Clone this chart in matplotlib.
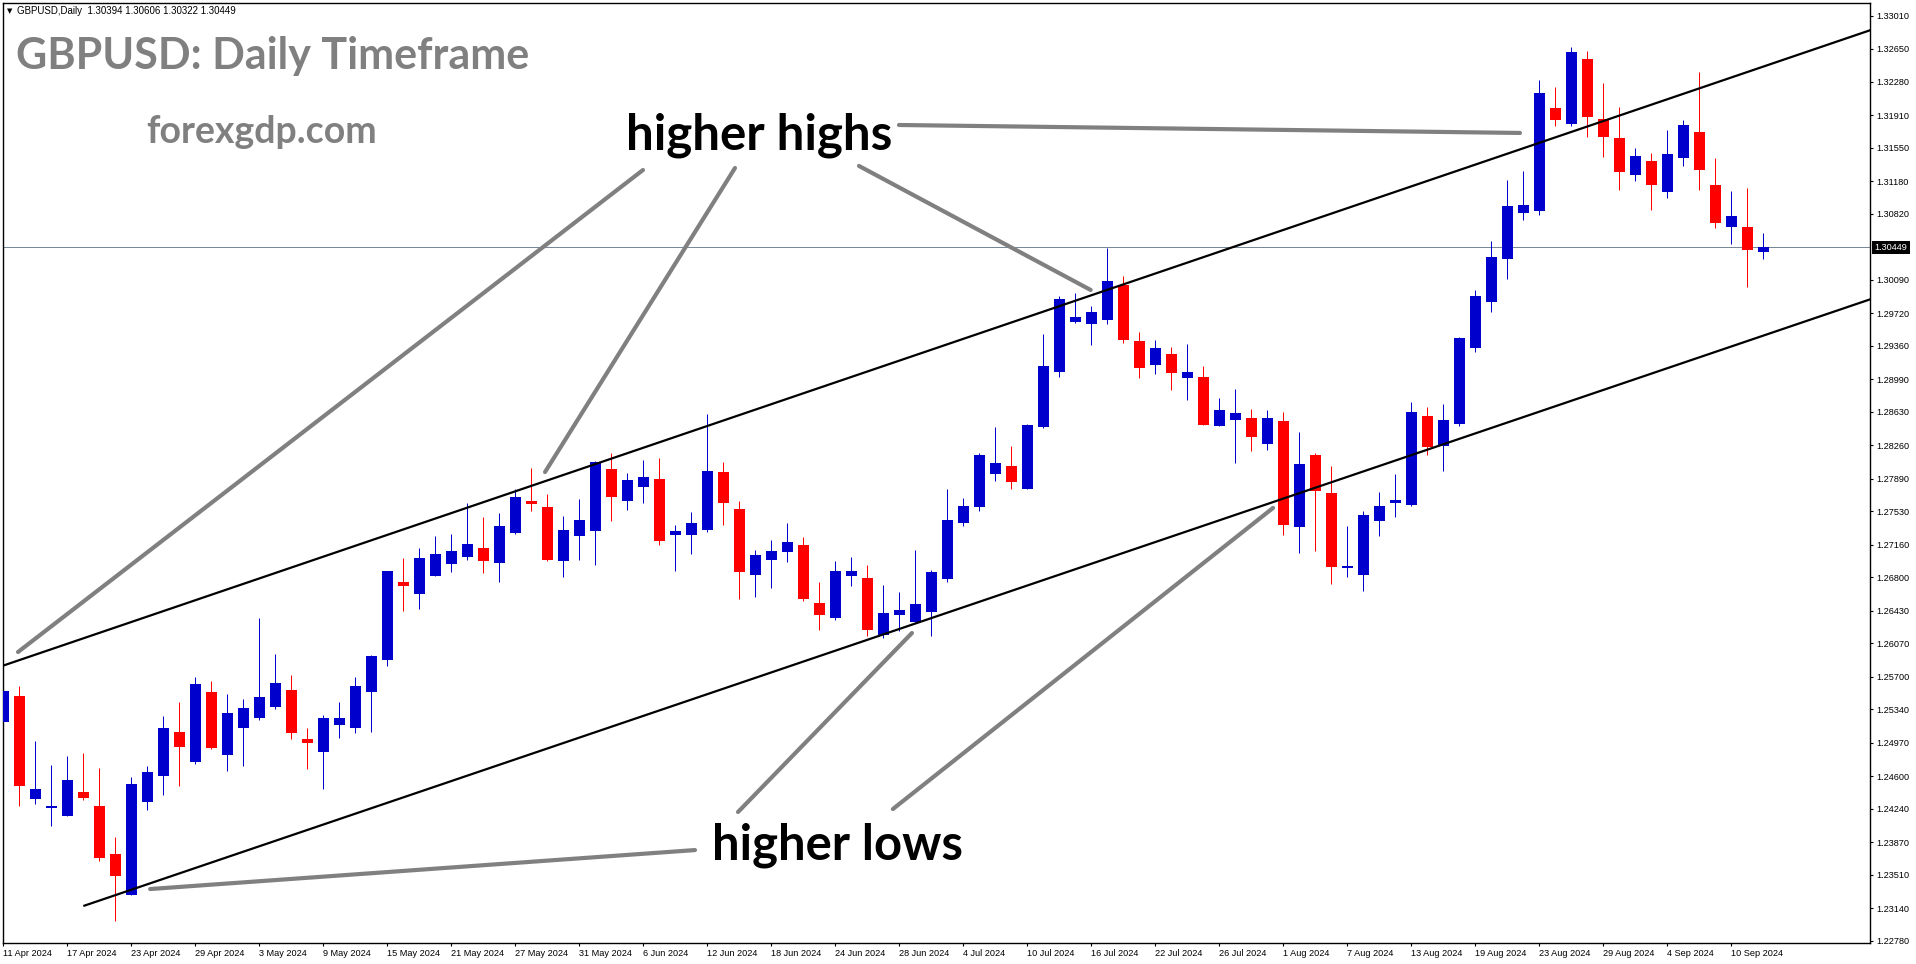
import matplotlib
matplotlib.use("Agg")
import matplotlib.pyplot as plt
import matplotlib.transforms as mtransforms

W, H = 1916, 964

# daily OHLC, 11 Apr 2024 .. 12 Sep 2024 (one entry per trading day)
opens = [1.25203, 1.25487, 1.24351, 1.24251, 1.24163, 1.24425, 1.24270, 1.23739, 1.23289, 1.24318,
         1.24605, 1.25089, 1.24760, 1.25531, 1.24838, 1.25136, 1.25247, 1.25369, 1.25554, 1.25011,
         1.24871, 1.25170, 1.25136, 1.25535, 1.25889, 1.26748, 1.26619, 1.26818, 1.26951, 1.27028,
         1.27124, 1.26962, 1.27294, 1.27644, 1.27578, 1.26984, 1.27261, 1.27316, 1.27998, 1.27648,
         1.27803, 1.27888, 1.27272, 1.27272, 1.27327, 1.27965, 1.27556, 1.26829, 1.26995, 1.27084,
         1.27158, 1.26516, 1.26353, 1.26818, 1.26793, 1.26165, 1.26387, 1.26309, 1.26420, 1.26785,
         1.27404, 1.27581, 1.27946, 1.28032, 1.27780, 1.28466, 1.29075, 1.29628, 1.29606, 1.29650,
         1.30034, 1.29415, 1.29152, 1.29271, 1.29008, 1.29016, 1.28477, 1.28544, 1.28563, 1.28278,
         1.28529, 1.27360, 1.28153, 1.27736, 1.26907, 1.26829, 1.27427, 1.27626, 1.27604, 1.28585,
         1.28256, 1.28496, 1.29340, 1.29849, 1.30325, 1.30834, 1.30856, 1.31992, 1.31819, 1.32534,
         1.31870, 1.31660, 1.31254, 1.31406, 1.31066, 1.31442, 1.31727, 1.31140, 1.30679, 1.30676,
         1.30394]
highs = [1.25794, 1.25598, 1.24989, 1.24724, 1.24823, 1.24857, 1.24691, 1.23927, 1.24591, 1.24713,
         1.25266, 1.25421, 1.25697, 1.25653, 1.25509, 1.25454, 1.26350, 1.25952, 1.25719, 1.25133,
         1.25277, 1.25421, 1.25697, 1.25941, 1.26873, 1.27014, 1.27124, 1.27257, 1.27279, 1.27622,
         1.27467, 1.27512, 1.27777, 1.28010, 1.27722, 1.27478, 1.27667, 1.28087, 1.28175, 1.27954,
         1.28098, 1.28120, 1.27379, 1.27523, 1.28607, 1.28076, 1.27644, 1.27102, 1.27213, 1.27401,
         1.27246, 1.26748, 1.26981, 1.27025, 1.26936, 1.26715, 1.26638, 1.27102, 1.26881, 1.27777,
         1.27678, 1.28175, 1.28466, 1.28256, 1.28496, 1.29492, 1.29912, 1.29946, 1.29802, 1.30443,
         1.30134, 1.29514, 1.29426, 1.29348, 1.29381, 1.29138, 1.28784, 1.28883, 1.28662, 1.28651,
         1.28629, 1.28408, 1.28175, 1.28032, 1.27368, 1.27534, 1.27744, 1.27943, 1.28740, 1.28684,
         1.28718, 1.29459, 1.29979, 1.30521, 1.31196, 1.31295, 1.32302, 1.32225, 1.32667, 1.32623,
         1.32269, 1.32003, 1.31550, 1.31494, 1.31749, 1.31859, 1.32390, 1.31439, 1.31074, 1.31107,
         1.30606]
lows = [1.25103, 1.24274, 1.24296, 1.24052, 1.24163, 1.24337, 1.23665, 1.23001, 1.23289, 1.24229,
        1.24395, 1.24495, 1.24738, 1.24904, 1.24661, 1.24716, 1.25225, 1.25347, 1.25015, 1.24683,
        1.24462, 1.25026, 1.25081, 1.25092, 1.25822, 1.26431, 1.26453, 1.26818, 1.26862, 1.26995,
        1.26851, 1.26752, 1.27283, 1.27537, 1.26984, 1.26807, 1.26995, 1.26940, 1.27427, 1.27548,
        1.27626, 1.27161, 1.26873, 1.27061, 1.27305, 1.27382, 1.26564, 1.26586, 1.26685, 1.26973,
        1.26541, 1.26221, 1.26331, 1.26707, 1.26154, 1.26132, 1.26210, 1.26298, 1.26154, 1.26752,
        1.27371, 1.27537, 1.27869, 1.27780, 1.27780, 1.28455, 1.29020, 1.29617, 1.29374, 1.29606,
        1.29396, 1.29008, 1.29053, 1.28876, 1.28765, 1.28489, 1.28477, 1.28068, 1.28201, 1.28212,
        1.27272, 1.27072, 1.27095, 1.26730, 1.26807, 1.26652, 1.27261, 1.27471, 1.27592, 1.28157,
        1.27980, 1.28474, 1.29296, 1.29739, 1.30104, 1.30756, 1.30808, 1.31793, 1.31796, 1.31675,
        1.31453, 1.31088, 1.31188, 1.30867, 1.31000, 1.31354, 1.31088, 1.30668, 1.30491, 1.30015,
        1.30322]
closes = [1.25542, 1.24495, 1.24458, 1.24270, 1.24558, 1.24362, 1.23698, 1.23499, 1.24514, 1.24646,
          1.25133, 1.24926, 1.25620, 1.24915, 1.25299, 1.25354, 1.25476, 1.25631, 1.25081, 1.24971,
          1.25244, 1.25244, 1.25598, 1.25930, 1.26873, 1.26707, 1.27014, 1.27058, 1.27091, 1.27169,
          1.26984, 1.27368, 1.27689, 1.27615, 1.26995, 1.27324, 1.27434, 1.28076, 1.27692, 1.27877,
          1.27910, 1.27205, 1.27313, 1.27401, 1.27976, 1.27626, 1.26862, 1.27047, 1.27091, 1.27191,
          1.26564, 1.26387, 1.26870, 1.26870, 1.26221, 1.26405, 1.26439, 1.26505, 1.26859, 1.27434,
          1.27589, 1.28153, 1.28065, 1.27858, 1.28485, 1.29138, 1.29879, 1.29680, 1.29735, 1.30078,
          1.29429, 1.29119, 1.29337, 1.29064, 1.29072, 1.28489, 1.28651, 1.28618, 1.28356, 1.28563,
          1.27382, 1.28054, 1.27758, 1.26918, 1.26929, 1.27490, 1.27589, 1.27655, 1.28629, 1.28245,
          1.28541, 1.29448, 1.29912, 1.30344, 1.30908, 1.30919, 1.32158, 1.31863, 1.32612, 1.31896,
          1.31675, 1.31287, 1.31461, 1.31144, 1.31483, 1.31804, 1.31310, 1.30723, 1.30797, 1.30425,
          1.30449]

date_labels = ["11 Apr 2024", "17 Apr 2024", "23 Apr 2024", "29 Apr 2024", "3 May 2024", "9 May 2024",
               "15 May 2024", "21 May 2024", "27 May 2024", "31 May 2024", "6 Jun 2024", "12 Jun 2024",
               "18 Jun 2024", "24 Jun 2024", "28 Jun 2024", "4 Jul 2024", "10 Jul 2024", "16 Jul 2024",
               "22 Jul 2024", "26 Jul 2024", "1 Aug 2024", "7 Aug 2024", "13 Aug 2024", "19 Aug 2024",
               "23 Aug 2024", "29 Aug 2024", "4 Sep 2024", "10 Sep 2024"]
price_labels = ["1.33010", "1.32650", "1.32280", "1.31910", "1.31550", "1.31180", "1.30820",
                "1.30090", "1.29720", "1.29360", "1.28990", "1.28630", "1.28260", "1.27890",
                "1.27530", "1.27160", "1.26800", "1.26430", "1.26070", "1.25700", "1.25340",
                "1.24970", "1.24600", "1.24240", "1.23870", "1.23510", "1.23140", "1.22780"]
last_price = 1.30449
header = "GBPUSD,Daily  1.30394 1.30606 1.30322 1.30449"

# channel lines: (bar index, price) anchors, extended to the right edge
upper_channel = [(0.0, 1.25824), (110.0, 1.32450)]
lower_channel = [(5.0, 1.23164), (110.0, 1.29474)]
# grey pointer lines (bar index, price)
hh_pointers = [[(0.92, 1.25974), (39.98, 1.31306)],
               [(33.86, 1.27965), (45.73, 1.31328)],
               [(53.48, 1.31351), (67.96, 1.29979)],
               [(55.98, 1.31804), (94.79, 1.31716)]]
hl_pointers = [[(9.18, 1.23352), (43.23, 1.23783)],
               [(45.92, 1.24204), (56.79, 1.26184)],
               [(55.60, 1.24237), (79.36, 1.27568)]]

UP_C = "#0000cc"; DN_C = "#ff0000"; PTR_C = "#808080"

fig = plt.figure(figsize=(W / 100, H / 100), dpi=100, facecolor="white")
# plot box in pixels: x 2.5..1870, y 2.5..943
ax = fig.add_axes([2.5 / W, 1 - 943 / H, (1870 - 2.5) / W, (943 - 2.5) / H])
ax.set_xlim((2.5 - 3.3) / 16, (1870 - 3.3) / 16)
ax.set_ylim(1.22755, 1.33159)

px = 0.72  # one pixel in points
n = len(opens)
idx = list(range(n))
for i in idx:
    o, h, l, c = opens[i], highs[i], lows[i], closes[i]
    col = UP_C if c >= o else DN_C
    ax.vlines(i, l, h, color=col, lw=px, zorder=2)
    bot = min(o, c); ht = max(abs(c - o), 0.00012)
    ax.bar(i, ht, bottom=bot, width=11 / 16, color=col, lw=0, zorder=3)

ax.axhline(last_price, color="#778899", lw=px, zorder=1)

for pts, start_only in ((upper_channel, False), (lower_channel, True)):
    (x0, y0), (x1, y1) = pts
    slope = (y1 - y0) / (x1 - x0)
    xs = x0 if start_only else -5
    xe = 130
    ax.plot([xs, xe], [y0 + slope * (xs - x0), y0 + slope * (xe - x0)], color="black", lw=1.6, zorder=4,
            solid_capstyle="butt")

for seg in hh_pointers + hl_pointers:
    ax.plot([seg[0][0], seg[1][0]], [seg[0][1], seg[1][1]], color=PTR_C, lw=3.0, zorder=5,
            solid_capstyle="round")

# axes styling (MT4 look)
for s in ax.spines.values():
    s.set_linewidth(1.0); s.set_color("black")
ax.yaxis.tick_right()
ax.set_yticks([float(p) for p in price_labels])
ax.set_yticklabels(price_labels)
ax.set_xticks(idx[::4][:len(date_labels)])
ax.set_xticklabels(date_labels, ha="left")
ax.tick_params(axis="y", length=2.5, width=0.8, pad=2, labelsize=6.6)
ax.tick_params(axis="x", length=2.5, width=0.8, pad=2, labelsize=6.6)
for lab in ax.get_xticklabels() + ax.get_yticklabels():
    lab.set_fontfamily("Liberation Sans")

# current price box on the price scale
trans = mtransforms.blended_transform_factory(ax.transAxes, ax.transData)
ax.text(1.0025, last_price, f"{last_price:.5f}", transform=trans, ha="left", va="center",
        fontsize=6.6, family="Liberation Sans", color="white", zorder=10, clip_on=False,
        bbox=dict(facecolor="black", edgecolor="none", pad=1.6))


def fx(x, y):
    return x / W, 1 - y / H


fig.text(*fx(7, 11), "\u25bc", fontsize=5, ha="left", va="center", color="black")
fig.text(*fx(17, 11), header, fontsize=7, family="Liberation Sans", ha="left", va="center", color="black")
fig.text(*fx(16, 69), "GBPUSD: Daily Timeframe", fontsize=31, family="Lato", fontweight="bold",
         color="#808080", ha="left", va="baseline")
fig.text(*fx(146, 143), "forexgdp.com", fontsize=27, family="Lato", fontweight="bold",
         color="#808080", ha="left", va="baseline")
fig.text(*fx(626, 150), "higher highs", fontsize=35.5, family="Lato", fontweight="bold",
         color="black", ha="left", va="baseline")
fig.text(*fx(712, 860), "higher lows", fontsize=35.3, family="Lato", fontweight="bold",
         color="black", ha="left", va="baseline")

fig.savefig("out.png", dpi=100, facecolor="white")
